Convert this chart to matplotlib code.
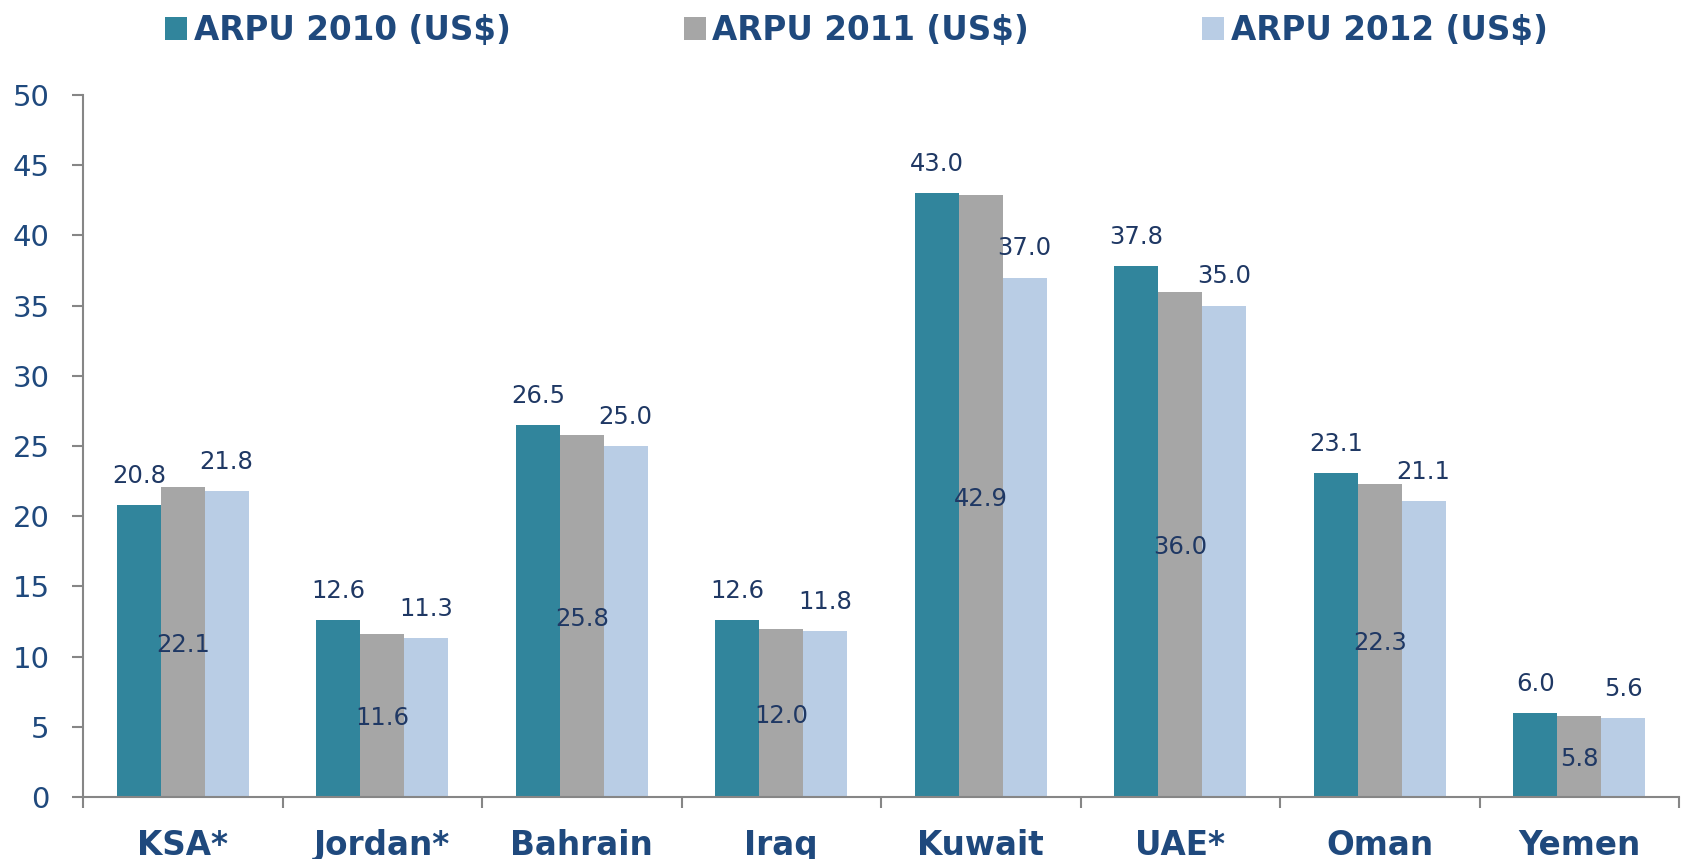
import matplotlib
matplotlib.use("Agg")
import matplotlib.pyplot as plt
import numpy as np
from matplotlib.patches import Patch

categories = ["KSA*", "Jordan*", "Bahrain", "Iraq", "Kuwait", "UAE*", "Oman", "Yemen"]
arpu_2010 = [20.8, 12.6, 26.5, 12.6, 43.0, 37.8, 23.1, 6.0]
arpu_2011 = [22.1, 11.6, 25.8, 12.0, 42.9, 36.0, 22.3, 5.8]
arpu_2012 = [21.8, 11.3, 25.0, 11.8, 37.0, 35.0, 21.1, 5.6]
series_names = ["ARPU 2010 (US$)", "ARPU 2011 (US$)", "ARPU 2012 (US$)"]
y_ticks = [0, 5, 10, 15, 20, 25, 30, 35, 40, 45, 50]

colors = ["#31859C", "#A6A6A6", "#B9CDE5"]
navy = "#1F497D"
label_navy = "#1F3864"
spine_gray = "#868686"

plt.rcParams['font.family'] = ['DejaVu Sans']

fig = plt.figure(figsize=(16.82, 8.59), dpi=100)
ax = fig.add_axes([83/1682, 1 - 797/859, (1679 - 83)/1682, (797 - 95)/859])

x = np.arange(len(categories))
w = 0.22
bars10 = ax.bar(x - w, arpu_2010, w, color=colors[0], linewidth=0)
bars11 = ax.bar(x, arpu_2011, w, color=colors[1], linewidth=0)
bars12 = ax.bar(x + w, arpu_2012, w, color=colors[2], linewidth=0)

fs_lab = 17.5
for xi, v in zip(x - w, arpu_2010):
    ax.annotate(f"{v:.1f}", (xi, v), xytext=(0, 21), textcoords="offset points",
                ha="center", va="center", fontsize=fs_lab, color=label_navy)
for xi, v in zip(x + w, arpu_2012):
    ax.annotate(f"{v:.1f}", (xi, v), xytext=(0, 21), textcoords="offset points",
                ha="center", va="center", fontsize=fs_lab, color=label_navy)
for xi, v in zip(x, arpu_2011):
    ax.annotate(f"{v:.1f}", (xi, v / 2), xytext=(0, -2), textcoords="offset points",
                ha="center", va="center", fontsize=fs_lab, color=label_navy)

ax.set_xlim(-0.5, len(categories) - 0.5)
ax.set_ylim(0, 50)
ax.set_yticks(y_ticks)
ax.set_yticklabels([str(t) for t in y_ticks])
ax.tick_params(axis="y", direction="out", length=8, width=1.5, color=spine_gray,
               labelsize=21, labelcolor=navy, pad=16)

ax.set_xticks(np.arange(len(categories) + 1) - 0.5)
ax.set_xticklabels([])
ax.set_xticks(x, minor=True)
ax.set_xticklabels(categories, minor=True, fontsize=23.5, fontweight="bold", color=navy)
ax.tick_params(axis="x", which="major", direction="out", length=8, width=1.5, color=spine_gray)
ax.tick_params(axis="x", which="minor", length=0, pad=23)

for s in ["top", "right"]:
    ax.spines[s].set_visible(False)
for s in ["left", "bottom"]:
    ax.spines[s].set_color(spine_gray)
    ax.spines[s].set_linewidth(1.5)

handles = [Patch(facecolor=c, edgecolor="none") for c in colors]
leg = fig.legend(handles, series_names, loc="upper left", bbox_to_anchor=(165/1682, 1 - 14/859),
                 ncol=3, frameon=False, borderpad=0, borderaxespad=0,
                 handlelength=0.68, handleheight=0.68, handletextpad=0.2,
                 columnspacing=5.3, prop={"size": 23.5, "weight": "bold"})
for t in leg.get_texts():
    t.set_color(navy)

fig.savefig("out.png", dpi=100)
